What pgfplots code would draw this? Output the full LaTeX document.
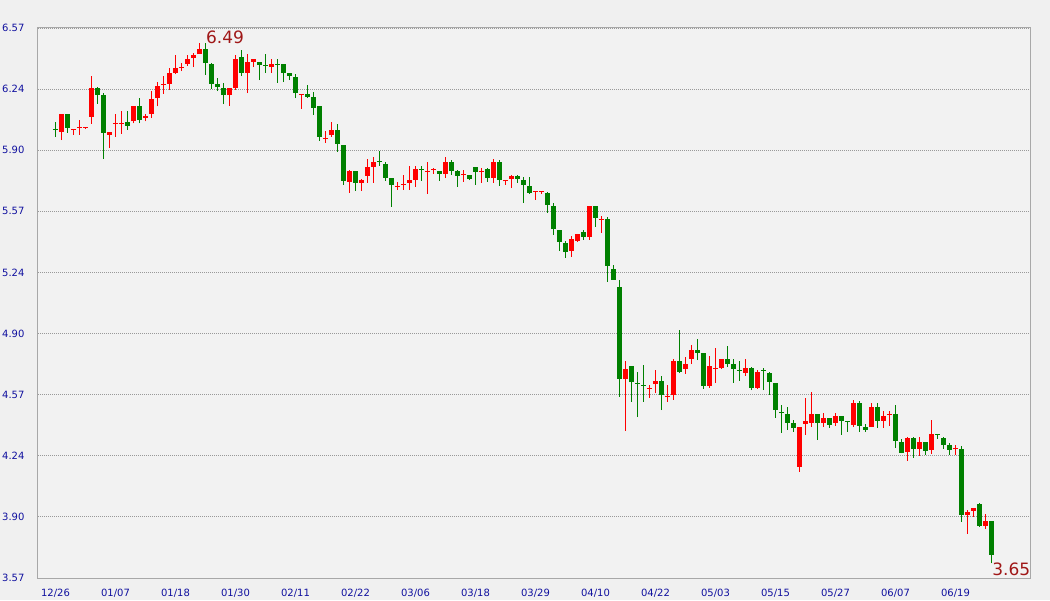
\documentclass[border=0pt]{standalone}
\usepackage{fontspec}
\setmainfont{DejaVu Sans}
\usepackage{pgfplots}
\usepackage{pgfplotstable}
\pgfplotsset{compat=1.18}
\definecolor{cred}{HTML}{FF0000}
\definecolor{cgreen}{HTML}{008000}
\definecolor{bg}{HTML}{F0F0F0}
\definecolor{plotbg}{HTML}{F2F2F2}
\definecolor{border}{HTML}{A8A8A8}
\definecolor{gridc}{HTML}{999999}
\definecolor{tickblue}{HTML}{10109F}
\definecolor{annot}{HTML}{A01818}

\pgfplotstableread{
k o h l c
1 6.004 6.101 5.959 6.101
3 6.015 6.020 5.988 6.020
4 6.025 6.068 5.988 6.030
5 6.025 6.030 6.020 6.030
6 6.086 6.308 6.048 6.243
9 5.988 6.004 5.915 6.004
10 6.047 6.101 5.977 6.052
11 6.047 6.119 5.993 6.052
13 6.060 6.145 6.050 6.145
15 6.080 6.100 6.060 6.090
16 6.101 6.225 6.079 6.183
17 6.188 6.275 6.143 6.254
18 6.261 6.308 6.210 6.266
19 6.265 6.352 6.232 6.325
20 6.325 6.423 6.319 6.352
21 6.354 6.379 6.335 6.359
22 6.373 6.423 6.363 6.401
23 6.406 6.434 6.357 6.423
24 6.428 6.490 6.428 6.455
29 6.204 6.243 6.145 6.243
30 6.243 6.423 6.232 6.401
32 6.325 6.428 6.215 6.385
33 6.385 6.401 6.357 6.401
36 6.357 6.401 6.325 6.374
41 6.205 6.210 6.130 6.210
45 5.967 6.008 5.944 5.972
46 5.988 6.057 5.977 6.014
49 5.732 5.797 5.672 5.792
51 5.726 5.748 5.682 5.742
52 5.764 5.857 5.726 5.813
53 5.813 5.868 5.726 5.840
57 5.702 5.730 5.688 5.707
58 5.715 5.770 5.688 5.720
59 5.726 5.817 5.688 5.741
60 5.742 5.817 5.704 5.801
62 5.787 5.839 5.666 5.792
63 5.797 5.806 5.775 5.802
65 5.775 5.866 5.753 5.839
68 5.767 5.796 5.732 5.772
71 5.787 5.806 5.726 5.792
73 5.753 5.855 5.726 5.839
75 5.734 5.739 5.715 5.739
76 5.748 5.768 5.699 5.763
80 5.677 5.682 5.633 5.682
81 5.677 5.682 5.666 5.682
86 5.355 5.435 5.322 5.419
87 5.410 5.446 5.404 5.446
89 5.432 5.599 5.415 5.599
91 5.525 5.544 5.453 5.530
95 4.657 4.754 4.373 4.712
99 4.603 4.623 4.552 4.608
100 4.628 4.705 4.579 4.643
102 4.558 4.623 4.530 4.563
103 4.568 4.765 4.541 4.754
105 4.710 4.775 4.683 4.737
106 4.765 4.841 4.737 4.814
109 4.617 4.782 4.607 4.728
110 4.712 4.824 4.635 4.717
111 4.716 4.765 4.710 4.765
115 4.690 4.765 4.673 4.715
117 4.608 4.705 4.601 4.694
124 4.177 4.393 4.150 4.393
125 4.411 4.552 4.352 4.426
126 4.417 4.584 4.395 4.464
128 4.417 4.470 4.395 4.442
130 4.417 4.470 4.401 4.453
133 4.406 4.541 4.395 4.524
136 4.395 4.524 4.395 4.503
138 4.428 4.481 4.390 4.453
139 4.460 4.481 4.401 4.465
142 4.259 4.339 4.210 4.334
144 4.275 4.339 4.237 4.311
146 4.270 4.431 4.248 4.355
150 4.272 4.295 4.241 4.277
152 3.915 3.942 3.812 3.932
153 3.937 3.953 3.904 3.953
155 3.855 3.921 3.839 3.883
}\redt

\pgfplotstableread{
k o h l c
0 6.020 6.057 5.975 6.015
2 6.101 6.101 5.999 6.026
7 6.243 6.250 6.157 6.206
8 6.206 6.214 5.855 5.999
12 6.056 6.119 6.014 6.037
14 6.145 6.188 6.050 6.070
25 6.455 6.488 6.314 6.379
26 6.373 6.379 6.237 6.265
27 6.265 6.297 6.226 6.248
28 6.243 6.270 6.155 6.204
31 6.412 6.450 6.308 6.325
34 6.385 6.385 6.286 6.368
35 6.368 6.428 6.325 6.363
37 6.374 6.401 6.270 6.369
38 6.374 6.374 6.275 6.325
39 6.325 6.325 6.286 6.308
40 6.303 6.319 6.188 6.215
42 6.210 6.259 6.190 6.195
43 6.194 6.221 6.097 6.135
44 6.145 6.145 5.955 5.977
47 6.014 6.046 5.895 5.939
48 5.932 5.932 5.715 5.737
50 5.792 5.792 5.682 5.726
54 5.843 5.899 5.818 5.838
55 5.828 5.839 5.737 5.753
56 5.752 5.752 5.595 5.715
61 5.801 5.817 5.737 5.796
64 5.790 5.790 5.737 5.775
66 5.839 5.850 5.770 5.790
67 5.790 5.796 5.704 5.764
69 5.768 5.768 5.740 5.745
70 5.812 5.812 5.715 5.786
72 5.801 5.806 5.732 5.753
74 5.839 5.850 5.710 5.742
77 5.763 5.768 5.726 5.748
78 5.741 5.757 5.617 5.715
79 5.708 5.757 5.666 5.672
82 5.672 5.677 5.562 5.606
83 5.599 5.614 5.443 5.473
84 5.468 5.468 5.355 5.404
85 5.397 5.408 5.317 5.350
88 5.457 5.468 5.415 5.432
90 5.599 5.599 5.486 5.535
92 5.528 5.539 5.186 5.273
93 5.255 5.277 5.197 5.197
94 5.157 5.195 4.559 4.657
96 4.727 4.727 4.530 4.639
97 4.635 4.694 4.448 4.630
98 4.623 4.732 4.530 4.618
101 4.644 4.672 4.486 4.568
104 4.754 4.923 4.688 4.694
107 4.814 4.874 4.759 4.799
108 4.797 4.797 4.601 4.617
112 4.765 4.836 4.720 4.737
113 4.737 4.765 4.635 4.712
114 4.705 4.754 4.646 4.700
116 4.715 4.720 4.595 4.608
118 4.707 4.715 4.595 4.702
119 4.688 4.694 4.570 4.641
120 4.634 4.634 4.444 4.488
121 4.474 4.515 4.362 4.469
122 4.464 4.504 4.379 4.417
123 4.415 4.431 4.368 4.390
127 4.464 4.464 4.324 4.417
129 4.442 4.442 4.390 4.406
131 4.453 4.453 4.352 4.428
132 4.427 4.427 4.368 4.422
134 4.524 4.535 4.368 4.401
135 4.393 4.410 4.368 4.379
137 4.503 4.524 4.390 4.428
140 4.464 4.514 4.280 4.319
141 4.311 4.328 4.250 4.253
143 4.334 4.339 4.226 4.275
145 4.311 4.311 4.243 4.265
147 4.356 4.357 4.330 4.351
148 4.334 4.339 4.275 4.297
149 4.295 4.306 4.243 4.270
151 4.273 4.290 3.877 3.915
154 3.975 3.981 3.850 3.855
156 3.883 3.883 3.650 3.697
}\greent

\begin{document}
\begin{tikzpicture}
\useasboundingbox (0,0) rectangle (1050pt,600pt);
\fill[bg] (0,0) rectangle (1050pt,600pt);
\begin{axis}[
  at={(38pt,22pt)}, anchor=south west,
  scale only axis, width=992pt, height=550pt,
  xmin=-2.917, xmax=162.417, ymin=3.57, ymax=6.57,
  axis background/.style={fill=plotbg},
  axis line style={draw=border, line width=1pt},
  xtick={0,10,...,150},
  xticklabels={12/26,01/07,01/18,01/30,02/11,02/22,03/06,03/18,03/29,04/10,04/22,05/03,05/15,05/27,06/07,06/19},
  ytick={3.57,3.90333,4.23667,4.57,4.90333,5.23667,5.57,5.90333,6.23667,6.57},
  yticklabels={3.57,3.90,4.24,4.57,4.90,5.24,5.57,5.90,6.24,6.57},
  major tick length=0pt,
  ymajorgrids,
  grid style={gridc, line width=0.8pt, dash pattern=on 1pt off 1pt},
  tick label style={font=\fontsize{10}{12}\selectfont, text=tickblue},
  xticklabel style={yshift=-8pt},
  yticklabel style={xshift=-10pt},
  /pgf/number format/assume math mode=true,
  clip=false,
]
% wicks
\addplot[draw=none, mark=none, forget plot,
  error bars/.cd, y dir=plus, y explicit, error mark=none,
  error bar style={draw=cred, line width=1pt}]
  table[x=k, y=l, y error plus expr={\thisrow{h}-\thisrow{l}}] {\redt};
\addplot[draw=none, mark=none, forget plot,
  error bars/.cd, y dir=plus, y explicit, error mark=none,
  error bar style={draw=cgreen, line width=1pt}]
  table[x=k, y=l, y error plus expr={\thisrow{h}-\thisrow{l}}] {\greent};
% bodies
\addplot[draw=none, mark=none, forget plot,
  error bars/.cd, y dir=plus, y explicit, error mark=none,
  error bar style={draw=cred, line width=5pt}]
  table[x=k, y=o, y error plus expr={\thisrow{c}-\thisrow{o}}] {\redt};
\addplot[draw=none, mark=none, forget plot,
  error bars/.cd, y dir=plus, y explicit, error mark=none,
  error bar style={draw=cgreen, line width=5pt}]
  table[x=k, y=c, y error plus expr={\thisrow{o}-\thisrow{c}}] {\greent};
\node[anchor=base west, inner sep=0pt, text=annot, font=\fontsize{17}{18}\selectfont] at (axis cs:25.08,6.483) {6.49};
\node[anchor=base west, inner sep=0pt, text=annot, font=\fontsize{17}{18}\selectfont] at (axis cs:156.1,3.582) {3.65};
\end{axis}
\end{tikzpicture}
\end{document}
